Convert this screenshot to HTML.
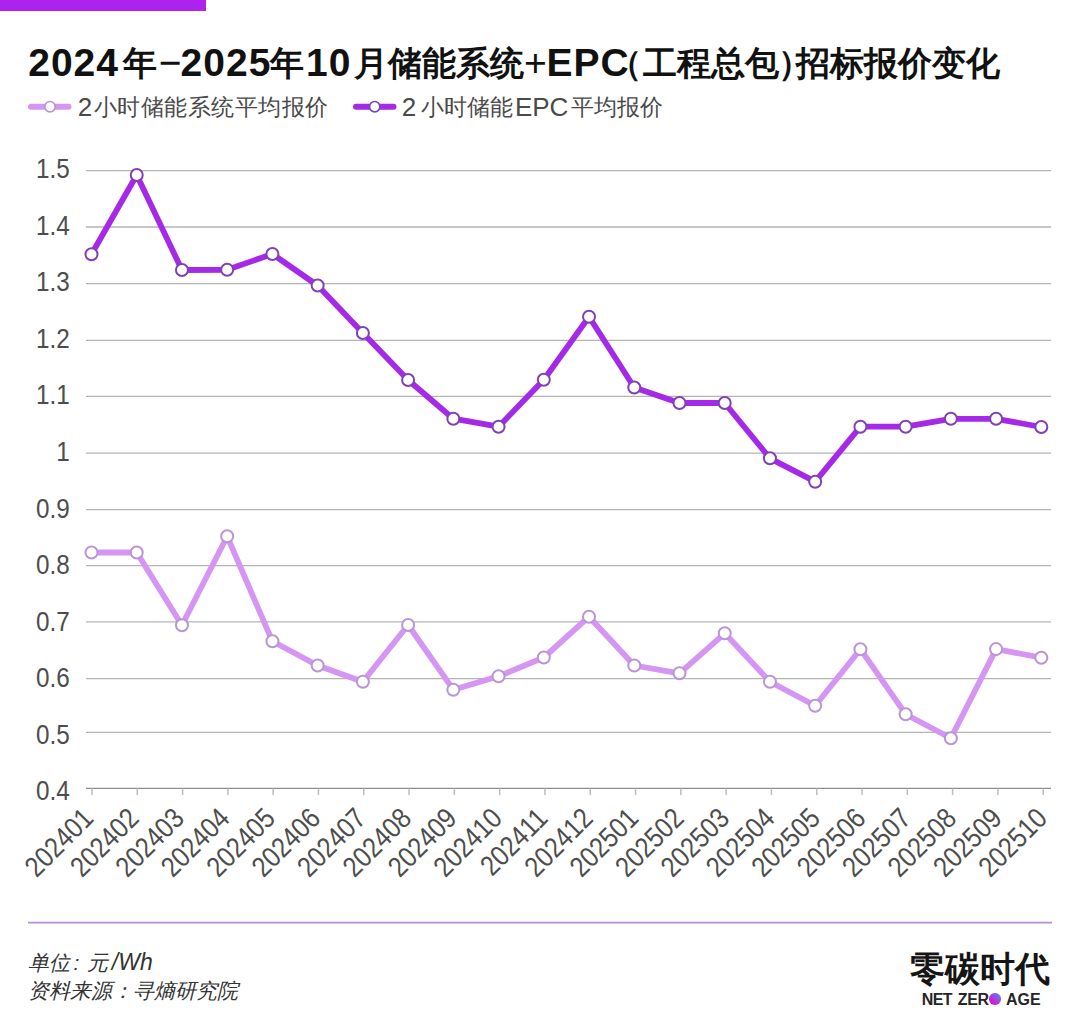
<!DOCTYPE html>
<html><head><meta charset="utf-8">
<style>
html,body{margin:0;padding:0;background:#fff;}
body{width:1080px;height:1033px;position:relative;overflow:hidden;font-family:"Liberation Sans",sans-serif;}
svg{position:absolute;left:0;top:0;}
.yl{font-family:"Liberation Sans",sans-serif;font-size:27px;fill:#4d4d4d;}
.xl{font-family:"Liberation Sans",sans-serif;font-size:28.5px;fill:#4d4d4d;}
.t{position:absolute;white-space:nowrap;}
.ts{position:absolute;white-space:nowrap;font-weight:bold;color:#111;line-height:44px;}
.ts.d{font-size:39px;letter-spacing:1px;top:41.2px;}
.ts.n{font-weight:normal;}
.ts.c{font-size:34px;letter-spacing:0px;top:40.5px;}
.leg{top:92px;font-size:23px;color:#4a4a4a;line-height:30px;}
.ld{font-size:26px;top:91.5px;}
.le{font-size:26px;top:91.5px;}
.foot{left:28px;font-size:21px;font-style:italic;color:#333;line-height:28px;}
#logo{left:910.1px;top:950px;font-family:"Liberation Serif",serif;font-weight:bold;font-size:35px;color:#151515;line-height:40px;}
.nza{top:990px;font-size:16px;font-weight:bold;color:#262626;line-height:20px;}
.dot{width:11.5px;height:11.5px;border-radius:50%;background:linear-gradient(45deg,#e010d0 20%,#5a80f0 90%);}
</style></head><body>
<svg width="1080" height="1033" viewBox="0 0 1080 1033">
<line x1="86" x2="1051" y1="170.65" y2="170.65" stroke="#b4b4b4" stroke-width="1.3"/>
<line x1="86" x2="1051" y1="227.00" y2="227.00" stroke="#b4b4b4" stroke-width="1.3"/>
<line x1="86" x2="1051" y1="283.65" y2="283.65" stroke="#b4b4b4" stroke-width="1.3"/>
<line x1="86" x2="1051" y1="340.45" y2="340.45" stroke="#b4b4b4" stroke-width="1.3"/>
<line x1="86" x2="1051" y1="396.45" y2="396.45" stroke="#b4b4b4" stroke-width="1.3"/>
<line x1="86" x2="1051" y1="453.10" y2="453.10" stroke="#b4b4b4" stroke-width="1.3"/>
<line x1="86" x2="1051" y1="509.55" y2="509.55" stroke="#b4b4b4" stroke-width="1.3"/>
<line x1="86" x2="1051" y1="565.65" y2="565.65" stroke="#b4b4b4" stroke-width="1.3"/>
<line x1="86" x2="1051" y1="621.94" y2="621.94" stroke="#b4b4b4" stroke-width="1.3"/>
<line x1="86" x2="1051" y1="678.71" y2="678.71" stroke="#b4b4b4" stroke-width="1.3"/>
<line x1="86" x2="1051" y1="732.45" y2="732.45" stroke="#b4b4b4" stroke-width="1.3"/>
<line x1="86" x2="1051" y1="788.45" y2="788.45" stroke="#8e8e8e" stroke-width="1.3"/>
<line x1="92.00" x2="92.00" y1="788.45" y2="795" stroke="#bdbdbd" stroke-width="1.5"/>
<line x1="137.30" x2="137.30" y1="788.45" y2="795" stroke="#bdbdbd" stroke-width="1.5"/>
<line x1="182.59" x2="182.59" y1="788.45" y2="795" stroke="#bdbdbd" stroke-width="1.5"/>
<line x1="227.89" x2="227.89" y1="788.45" y2="795" stroke="#bdbdbd" stroke-width="1.5"/>
<line x1="273.18" x2="273.18" y1="788.45" y2="795" stroke="#bdbdbd" stroke-width="1.5"/>
<line x1="318.48" x2="318.48" y1="788.45" y2="795" stroke="#bdbdbd" stroke-width="1.5"/>
<line x1="363.77" x2="363.77" y1="788.45" y2="795" stroke="#bdbdbd" stroke-width="1.5"/>
<line x1="409.07" x2="409.07" y1="788.45" y2="795" stroke="#bdbdbd" stroke-width="1.5"/>
<line x1="454.36" x2="454.36" y1="788.45" y2="795" stroke="#bdbdbd" stroke-width="1.5"/>
<line x1="499.66" x2="499.66" y1="788.45" y2="795" stroke="#bdbdbd" stroke-width="1.5"/>
<line x1="544.95" x2="544.95" y1="788.45" y2="795" stroke="#bdbdbd" stroke-width="1.5"/>
<line x1="590.25" x2="590.25" y1="788.45" y2="795" stroke="#bdbdbd" stroke-width="1.5"/>
<line x1="635.54" x2="635.54" y1="788.45" y2="795" stroke="#bdbdbd" stroke-width="1.5"/>
<line x1="680.84" x2="680.84" y1="788.45" y2="795" stroke="#bdbdbd" stroke-width="1.5"/>
<line x1="726.13" x2="726.13" y1="788.45" y2="795" stroke="#bdbdbd" stroke-width="1.5"/>
<line x1="771.43" x2="771.43" y1="788.45" y2="795" stroke="#bdbdbd" stroke-width="1.5"/>
<line x1="816.72" x2="816.72" y1="788.45" y2="795" stroke="#bdbdbd" stroke-width="1.5"/>
<line x1="862.02" x2="862.02" y1="788.45" y2="795" stroke="#bdbdbd" stroke-width="1.5"/>
<line x1="907.31" x2="907.31" y1="788.45" y2="795" stroke="#bdbdbd" stroke-width="1.5"/>
<line x1="952.61" x2="952.61" y1="788.45" y2="795" stroke="#bdbdbd" stroke-width="1.5"/>
<line x1="997.90" x2="997.90" y1="788.45" y2="795" stroke="#bdbdbd" stroke-width="1.5"/>
<line x1="1043.20" x2="1043.20" y1="788.45" y2="795" stroke="#bdbdbd" stroke-width="1.5"/>
<text transform="translate(69.8,178.30) scale(0.9,1)" text-anchor="end" class="yl">1.5</text>
<text transform="translate(69.8,234.84) scale(0.9,1)" text-anchor="end" class="yl">1.4</text>
<text transform="translate(69.8,291.37) scale(0.9,1)" text-anchor="end" class="yl">1.3</text>
<text transform="translate(69.8,347.91) scale(0.9,1)" text-anchor="end" class="yl">1.2</text>
<text transform="translate(69.8,404.44) scale(0.9,1)" text-anchor="end" class="yl">1.1</text>
<text transform="translate(69.8,460.98) scale(0.9,1)" text-anchor="end" class="yl">1</text>
<text transform="translate(69.8,517.52) scale(0.9,1)" text-anchor="end" class="yl">0.9</text>
<text transform="translate(69.8,574.05) scale(0.9,1)" text-anchor="end" class="yl">0.8</text>
<text transform="translate(69.8,630.59) scale(0.9,1)" text-anchor="end" class="yl">0.7</text>
<text transform="translate(69.8,687.12) scale(0.9,1)" text-anchor="end" class="yl">0.6</text>
<text transform="translate(69.8,743.66) scale(0.9,1)" text-anchor="end" class="yl">0.5</text>
<text transform="translate(69.8,800.20) scale(0.9,1)" text-anchor="end" class="yl">0.4</text>
<text transform="translate(95.00,820) rotate(-45) scale(0.87,1)" text-anchor="end" class="xl">202401</text>
<text transform="translate(140.42,820) rotate(-45) scale(0.87,1)" text-anchor="end" class="xl">202402</text>
<text transform="translate(185.84,820) rotate(-45) scale(0.87,1)" text-anchor="end" class="xl">202403</text>
<text transform="translate(231.26,820) rotate(-45) scale(0.87,1)" text-anchor="end" class="xl">202404</text>
<text transform="translate(276.68,820) rotate(-45) scale(0.87,1)" text-anchor="end" class="xl">202405</text>
<text transform="translate(322.10,820) rotate(-45) scale(0.87,1)" text-anchor="end" class="xl">202406</text>
<text transform="translate(367.52,820) rotate(-45) scale(0.87,1)" text-anchor="end" class="xl">202407</text>
<text transform="translate(412.94,820) rotate(-45) scale(0.87,1)" text-anchor="end" class="xl">202408</text>
<text transform="translate(458.36,820) rotate(-45) scale(0.87,1)" text-anchor="end" class="xl">202409</text>
<text transform="translate(503.78,820) rotate(-45) scale(0.87,1)" text-anchor="end" class="xl">202410</text>
<text transform="translate(549.20,820) rotate(-45) scale(0.87,1)" text-anchor="end" class="xl">202411</text>
<text transform="translate(594.62,820) rotate(-45) scale(0.87,1)" text-anchor="end" class="xl">202412</text>
<text transform="translate(640.04,820) rotate(-45) scale(0.87,1)" text-anchor="end" class="xl">202501</text>
<text transform="translate(685.46,820) rotate(-45) scale(0.87,1)" text-anchor="end" class="xl">202502</text>
<text transform="translate(730.88,820) rotate(-45) scale(0.87,1)" text-anchor="end" class="xl">202503</text>
<text transform="translate(776.30,820) rotate(-45) scale(0.87,1)" text-anchor="end" class="xl">202504</text>
<text transform="translate(821.72,820) rotate(-45) scale(0.87,1)" text-anchor="end" class="xl">202505</text>
<text transform="translate(867.14,820) rotate(-45) scale(0.87,1)" text-anchor="end" class="xl">202506</text>
<text transform="translate(912.56,820) rotate(-45) scale(0.87,1)" text-anchor="end" class="xl">202507</text>
<text transform="translate(957.98,820) rotate(-45) scale(0.87,1)" text-anchor="end" class="xl">202508</text>
<text transform="translate(1003.40,820) rotate(-45) scale(0.87,1)" text-anchor="end" class="xl">202509</text>
<text transform="translate(1048.82,820) rotate(-45) scale(0.87,1)" text-anchor="end" class="xl">202510</text>
<polyline points="91.50,552.50 136.73,552.50 181.96,625.30 227.19,536.30 272.42,641.30 317.65,665.50 362.88,681.70 408.11,625.00 453.34,689.70 498.57,676.30 543.80,657.50 589.03,616.70 634.26,665.50 679.49,673.30 724.72,633.30 769.95,681.70 815.18,705.80 860.41,649.20 905.64,714.20 950.87,738.30 996.10,649.10 1041.33,657.70" fill="none" stroke="#d596f3" stroke-width="5.8" stroke-linejoin="round" stroke-linecap="round"/>
<circle cx="91.50" cy="552.50" r="6" fill="#fff" stroke="#b896d6" stroke-width="2"/>
<circle cx="136.73" cy="552.50" r="6" fill="#fff" stroke="#b896d6" stroke-width="2"/>
<circle cx="181.96" cy="625.30" r="6" fill="#fff" stroke="#b896d6" stroke-width="2"/>
<circle cx="227.19" cy="536.30" r="6" fill="#fff" stroke="#b896d6" stroke-width="2"/>
<circle cx="272.42" cy="641.30" r="6" fill="#fff" stroke="#b896d6" stroke-width="2"/>
<circle cx="317.65" cy="665.50" r="6" fill="#fff" stroke="#b896d6" stroke-width="2"/>
<circle cx="362.88" cy="681.70" r="6" fill="#fff" stroke="#b896d6" stroke-width="2"/>
<circle cx="408.11" cy="625.00" r="6" fill="#fff" stroke="#b896d6" stroke-width="2"/>
<circle cx="453.34" cy="689.70" r="6" fill="#fff" stroke="#b896d6" stroke-width="2"/>
<circle cx="498.57" cy="676.30" r="6" fill="#fff" stroke="#b896d6" stroke-width="2"/>
<circle cx="543.80" cy="657.50" r="6" fill="#fff" stroke="#b896d6" stroke-width="2"/>
<circle cx="589.03" cy="616.70" r="6" fill="#fff" stroke="#b896d6" stroke-width="2"/>
<circle cx="634.26" cy="665.50" r="6" fill="#fff" stroke="#b896d6" stroke-width="2"/>
<circle cx="679.49" cy="673.30" r="6" fill="#fff" stroke="#b896d6" stroke-width="2"/>
<circle cx="724.72" cy="633.30" r="6" fill="#fff" stroke="#b896d6" stroke-width="2"/>
<circle cx="769.95" cy="681.70" r="6" fill="#fff" stroke="#b896d6" stroke-width="2"/>
<circle cx="815.18" cy="705.80" r="6" fill="#fff" stroke="#b896d6" stroke-width="2"/>
<circle cx="860.41" cy="649.20" r="6" fill="#fff" stroke="#b896d6" stroke-width="2"/>
<circle cx="905.64" cy="714.20" r="6" fill="#fff" stroke="#b896d6" stroke-width="2"/>
<circle cx="950.87" cy="738.30" r="6" fill="#fff" stroke="#b896d6" stroke-width="2"/>
<circle cx="996.10" cy="649.10" r="6" fill="#fff" stroke="#b896d6" stroke-width="2"/>
<circle cx="1041.33" cy="657.70" r="6" fill="#fff" stroke="#b896d6" stroke-width="2"/>
<polyline points="91.50,254.30 136.73,175.00 181.96,270.00 227.19,269.80 272.42,254.00 317.65,285.50 362.88,333.00 408.11,380.00 453.34,418.70 498.57,426.70 543.80,379.80 589.03,316.70 634.26,387.50 679.49,403.00 724.72,403.00 769.95,458.30 815.18,481.70 860.41,426.70 905.64,426.70 950.87,418.80 996.10,418.80 1041.33,427.00" fill="none" stroke="#a52ae8" stroke-width="5.8" stroke-linejoin="round" stroke-linecap="round"/>
<circle cx="91.50" cy="254.30" r="6" fill="#fff" stroke="#7f40b8" stroke-width="2"/>
<circle cx="136.73" cy="175.00" r="6" fill="#fff" stroke="#7f40b8" stroke-width="2"/>
<circle cx="181.96" cy="270.00" r="6" fill="#fff" stroke="#7f40b8" stroke-width="2"/>
<circle cx="227.19" cy="269.80" r="6" fill="#fff" stroke="#7f40b8" stroke-width="2"/>
<circle cx="272.42" cy="254.00" r="6" fill="#fff" stroke="#7f40b8" stroke-width="2"/>
<circle cx="317.65" cy="285.50" r="6" fill="#fff" stroke="#7f40b8" stroke-width="2"/>
<circle cx="362.88" cy="333.00" r="6" fill="#fff" stroke="#7f40b8" stroke-width="2"/>
<circle cx="408.11" cy="380.00" r="6" fill="#fff" stroke="#7f40b8" stroke-width="2"/>
<circle cx="453.34" cy="418.70" r="6" fill="#fff" stroke="#7f40b8" stroke-width="2"/>
<circle cx="498.57" cy="426.70" r="6" fill="#fff" stroke="#7f40b8" stroke-width="2"/>
<circle cx="543.80" cy="379.80" r="6" fill="#fff" stroke="#7f40b8" stroke-width="2"/>
<circle cx="589.03" cy="316.70" r="6" fill="#fff" stroke="#7f40b8" stroke-width="2"/>
<circle cx="634.26" cy="387.50" r="6" fill="#fff" stroke="#7f40b8" stroke-width="2"/>
<circle cx="679.49" cy="403.00" r="6" fill="#fff" stroke="#7f40b8" stroke-width="2"/>
<circle cx="724.72" cy="403.00" r="6" fill="#fff" stroke="#7f40b8" stroke-width="2"/>
<circle cx="769.95" cy="458.30" r="6" fill="#fff" stroke="#7f40b8" stroke-width="2"/>
<circle cx="815.18" cy="481.70" r="6" fill="#fff" stroke="#7f40b8" stroke-width="2"/>
<circle cx="860.41" cy="426.70" r="6" fill="#fff" stroke="#7f40b8" stroke-width="2"/>
<circle cx="905.64" cy="426.70" r="6" fill="#fff" stroke="#7f40b8" stroke-width="2"/>
<circle cx="950.87" cy="418.80" r="6" fill="#fff" stroke="#7f40b8" stroke-width="2"/>
<circle cx="996.10" cy="418.80" r="6" fill="#fff" stroke="#7f40b8" stroke-width="2"/>
<circle cx="1041.33" cy="427.00" r="6" fill="#fff" stroke="#7f40b8" stroke-width="2"/>
<line x1="31" x2="68.5" y1="106.7" y2="106.7" stroke="#d596f3" stroke-width="6" stroke-linecap="round"/>
<circle cx="50" cy="106.7" r="5.2" fill="#fff" stroke="#b896d6" stroke-width="1.7"/>
<line x1="356" x2="393.5" y1="106.7" y2="106.7" stroke="#a52ae8" stroke-width="6" stroke-linecap="round"/>
<circle cx="374.7" cy="106.7" r="5.2" fill="#fff" stroke="#7f40b8" stroke-width="1.7"/>
<line x1="28" x2="1052" y1="922.6" y2="922.6" stroke="#b38fd6" stroke-width="1.7"/>
<rect x="0" y="0" width="206" height="11" fill="#ae22ee"/>
</svg>
<span class="ts d" style="left:28.2px">2024</span>
<span class="ts c" style="left:122.5px">年</span>
<span class="ts d n" style="left:158.8px">−</span>
<span class="ts d" style="left:180.6px">2025</span>
<span class="ts c" style="left:269.7px">年</span>
<span class="ts d" style="left:306.0px">10</span>
<span class="ts c" style="left:353.7px">月储能系统</span>
<span class="ts d n" style="left:524.0px">+</span>
<span class="ts d" style="left:546.6px">EPC</span>
<span class="ts c" style="left:607.8px">（</span>
<span class="ts c" style="left:642.6px">工程总包</span>
<span class="ts c" style="left:778.3px">）</span>
<span class="ts c" style="left:796.0px">招标报价变化</span>
<div class="t leg ld" style="left:77.8px">2</div>
<div class="t leg" style="left:93.6px;letter-spacing:0.5px">小时储能系统平均报价</div>
<div class="t leg ld" style="left:401.8px">2</div>
<div class="t leg" style="left:420.7px">小时储能</div>
<div class="t leg le" style="left:514.9px">EPC</div>
<div class="t leg" style="left:571.3px">平均报价</div>
<div class="t foot" style="top:948.3px">单位<span style="margin:0 7.5px 0 3.5px">:</span>元<span style="font-size:23px;margin-left:4px">/Wh</span></div>
<div class="t foot" style="top:977px">资料来源：寻熵研究院</div>
<div id="logo" class="t">零碳时代</div>
<div class="t nza" style="left:921.8px;letter-spacing:-0.6px">NET</div>
<div class="t nza" style="left:957.8px;letter-spacing:-0.4px">ZER</div>
<div class="t dot" style="left:989.2px;top:993px"></div>
<div class="t nza" style="left:1006px;letter-spacing:0px">AGE</div>
</body></html>
